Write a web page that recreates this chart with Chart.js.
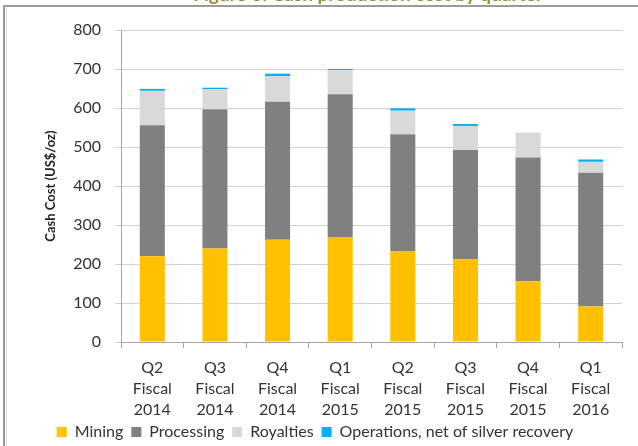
<!DOCTYPE html>
<html>
<head>
<meta charset="utf-8">
<script src="https://cdn.jsdelivr.net/npm/chart.js@4/dist/chart.umd.min.js"></script>
<style>
  html, body { margin: 0; padding: 0; background: #fff; }
  #wrap { width: 638px; height: 446px; }
</style>
</head>
<body>
<div id="wrap"><canvas id="chart" width="638" height="446"></canvas></div>
<script>
// Quarters on the x axis (multi-line labels)
const quarters = [
    ['Q2', 'Fiscal', '2014'],
    ['Q3', 'Fiscal', '2014'],
    ['Q4', 'Fiscal', '2014'],
    ['Q1', 'Fiscal', '2015'],
    ['Q2', 'Fiscal', '2015'],
    ['Q3', 'Fiscal', '2015'],
    ['Q4', 'Fiscal', '2015'],
    ['Q1', 'Fiscal', '2016']
];

// Cash cost components, US$/oz
const mining     = [220, 240, 262, 268, 232, 212, 156, 91];
const processing = [336, 357, 354, 367, 301, 280, 317, 343];
const royalties  = [88, 51, 66, 62, 60, 62, 64, 28];
const operations = [5, 4, 6, 3, 6, 5, 0, 6];

const chartTitle = 'Figure 6: Cash production cost by quarter';
const yTitle = 'Cash Cost (US$/oz)';

Chart.defaults.font.family = 'Lato, "Open Sans", sans-serif';
Chart.defaults.color = '#404040';

// Frame and clipped heading from the source document
const framePlugin = {
    id: 'frame',
    afterDraw(chart) {
        const ctx = chart.ctx;
        ctx.save();
        ctx.fillStyle = '#a08a2e';
        ctx.font = 'bold 19px Lato, sans-serif';
        ctx.textAlign = 'center';
        ctx.textBaseline = 'alphabetic';
        ctx.fillText(chartTitle, 368, 0.5);

        ctx.strokeStyle = '#9a9a9a';
        ctx.lineWidth = 2;
        ctx.beginPath();
        ctx.moveTo(3, 6);
        ctx.lineTo(638, 6);
        ctx.moveTo(4, 5);
        ctx.lineTo(4, 446);
        ctx.stroke();
        ctx.strokeStyle = '#dcdcdc';
        ctx.lineWidth = 1;
        ctx.beginPath();
        ctx.moveTo(6.5, 8);
        ctx.lineTo(6.5, 446);
        ctx.stroke();
        ctx.restore();
    }
};

new Chart(document.getElementById('chart'), {
    type: 'bar',
    data: {
        labels: quarters,
        datasets: [
            { label: 'Mining', data: mining, backgroundColor: '#ffc000' },
            { label: 'Processing', data: processing, backgroundColor: '#808080' },
            { label: 'Royalties', data: royalties, backgroundColor: '#d9d9d9' },
            { label: 'Operations, net of silver recovery', data: operations, backgroundColor: '#00b0f0' }
        ]
    },
    options: {
        responsive: false,
        animation: false,
        barPercentage: 0.4,
        categoryPercentage: 1,
        layout: { padding: { top: 30, left: 8, right: 16, bottom: -4 } },
        plugins: {
            tooltip: { enabled: false },
            legend: {
                position: 'bottom',
                labels: {
                    boxWidth: 10,
                    boxHeight: 10,
                    padding: 8,
                    color: '#333',
                    font: { size: 16 }
                }
            }
        },
        scales: {
            x: {
                stacked: true,
                grid: {
                    offset: true,
                    drawOnChartArea: false,
                    drawTicks: true,
                    tickLength: 6,
                    color: '#a6a6a6'
                },
                border: { color: '#a6a6a6' },
                ticks: {
                    color: '#333',
                    padding: 9,
                    font: { size: 16, lineHeight: 1.32 },
                    maxRotation: 0
                },
                afterFit(scale) { scale.height = 74; }
            },
            y: {
                stacked: true,
                min: 0,
                max: 800,
                grid: {
                    color: '#d0d0d0',
                    tickLength: 6
                },
                border: { color: '#a6a6a6' },
                ticks: {
                    stepSize: 100,
                    color: '#333',
                    padding: 14,
                    font: { size: 16 }
                },
                title: {
                    display: true,
                    text: yTitle,
                    color: '#222',
                    font: { size: 13, weight: 'bold' },
                    padding: { top: 35, bottom: 0 }
                },
                afterFit(scale) { scale.width = 113; }
            }
        }
    },
    plugins: [framePlugin]
});
</script>
</body>
</html>
